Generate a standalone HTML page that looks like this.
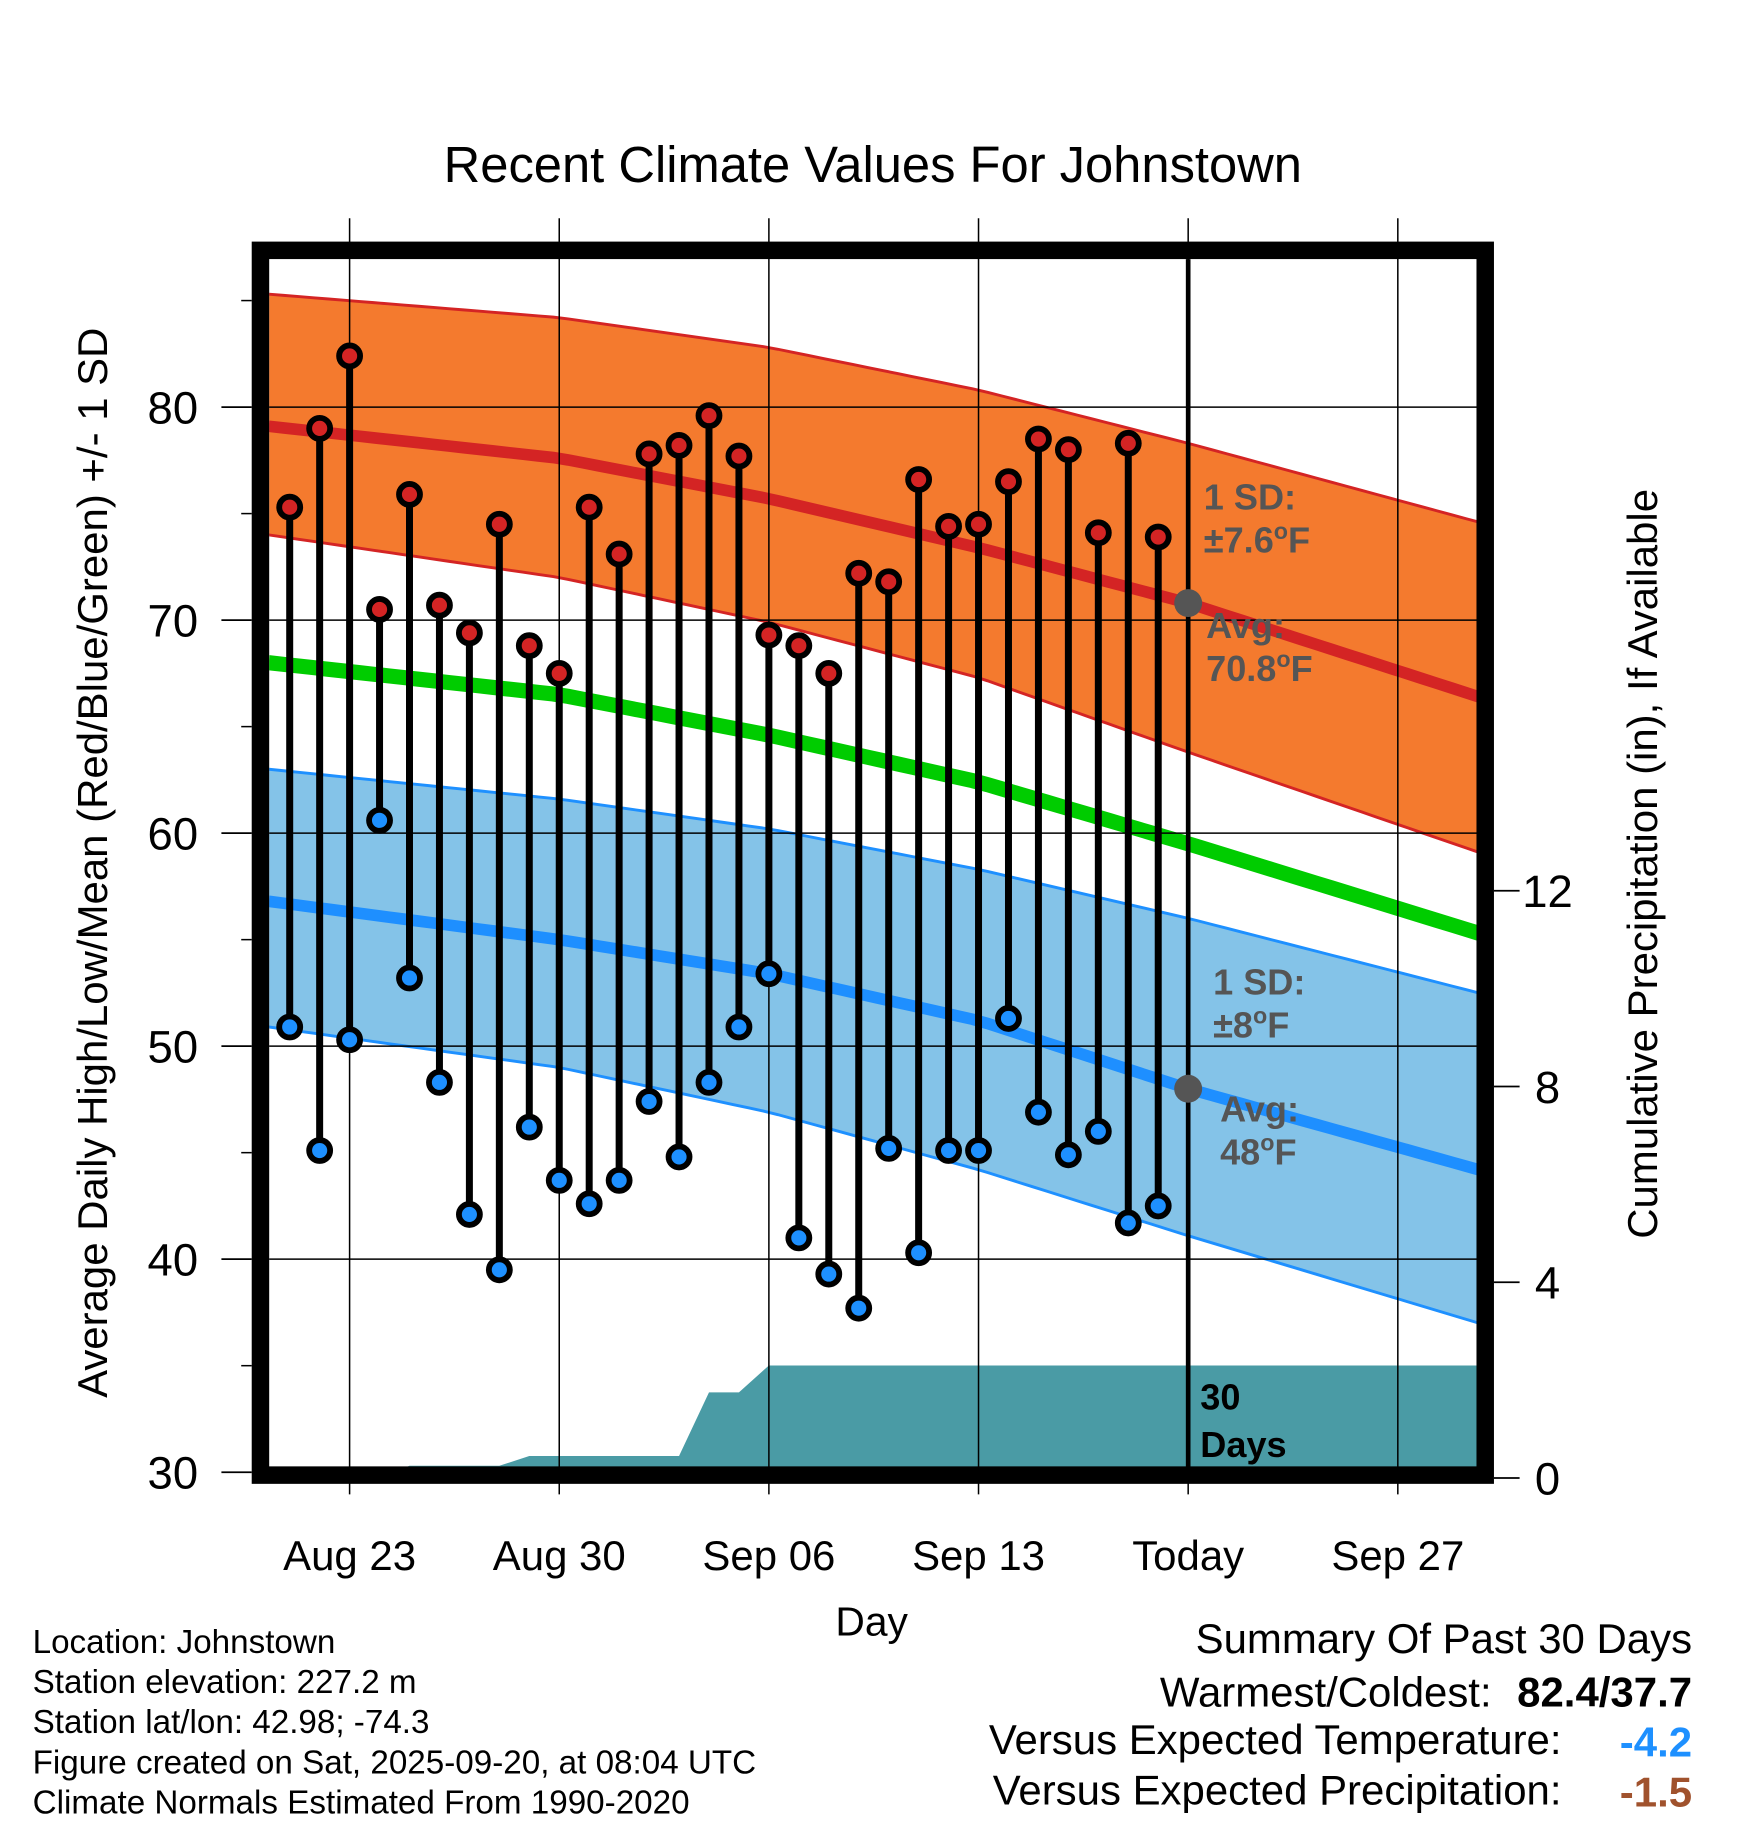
<!DOCTYPE html>
<html><head><meta charset="utf-8"><style>
html,body{margin:0;padding:0;background:#fff;}
svg{display:block;font-family:"Liberation Sans",Arial,sans-serif;}
</style></head><body>
<svg id="chart" width="1748" height="1828" viewBox="0 0 1500 1568" xmlns="http://www.w3.org/2000/svg">
<text x="749" y="156" font-size="43.5" text-anchor="middle">Recent Climate Values For Johnstown</text>
<g id="layer"></g>
</svg>
<script>
const dayLabels = ["Aug 23","Aug 30","Sep 06","Sep 13","Today","Sep 27"];
const dayTicks = [0,7,14,21,28,35];
const yTicks = [30,40,50,60,70,80];
const precipTicks = [0,4,8,12];
const obsDays = [-2,-1,0,1,2,3,4,5,6,7,8,9,10,11,12,13,14,15,16,17,18,19,20,21,22,23,24,25,26,27];
const highs = [75.3,79.0,82.4,70.5,75.9,70.7,69.4,74.5,68.8,67.5,75.3,73.1,77.8,78.2,79.6,77.7,69.3,68.8,67.5,72.2,71.8,76.6,74.4,74.5,76.5,78.5,78.0,74.1,78.3,73.9];
const lows = [50.9,45.1,50.3,60.6,53.2,48.3,42.1,39.5,46.2,43.7,42.6,43.7,47.4,44.8,48.3,50.9,53.4,41.0,39.3,37.7,45.2,40.3,45.1,45.1,51.3,46.9,44.9,46.0,41.7,42.5];
const precip = [0,0,0,0,0.25,0.25,0.25,0.25,0.45,0.45,0.45,0.45,0.45,0.45,1.75,1.75,2.3,2.3,2.3,2.3,2.3,2.3,2.3,2.3,2.3,2.3,2.3,2.3,2.3,2.3];
const normDays = [-2.7,7,14,21,28,37.7];
const redUpper = [85.3,84.2,82.8,80.8,78.3,74.6];
const redAvg = [79.1,77.6,75.7,73.4,70.8,66.4];
const redLower = [74.0,72.0,69.9,67.3,63.8,59.1];
const meanLine = [68.0,66.5,64.6,62.4,59.5,55.3];
const blueUpper = [63.0,61.6,60.2,58.3,56.0,52.5];
const blueAvg = [56.8,55.0,53.4,51.2,48.0,44.2];
const blueLower = [50.9,49.0,46.9,44.2,41.1,37.0];
const todayDay = 28;

const X = d => 300 + 25.7*d;
const Y = v => 1263 - (v-30)*18.28;
const P = p => 1268 - p*42;
const L = document.getElementById('layer');
const NS = "http://www.w3.org/2000/svg";
function mk(tag, attrs, parent){const e=document.createElementNS(NS,tag);for(const k in attrs)e.setAttribute(k,attrs[k]);(parent||L).appendChild(e);return e;}
function interp(arr, d){for(let i=0;i<normDays.length-1;i++){if(d<=normDays[i+1]||i==normDays.length-2){const t=(d-normDays[i])/(normDays[i+1]-normDays[i]);return arr[i]+t*(arr[i+1]-arr[i]);}}}
function curvePts(arr){const pts=[];const last=normDays[normDays.length-1];for(let d=normDays[0];d<last;d+=0.5){pts.push([X(d),Y(interp(arr,d))]);}pts.push([X(last),Y(interp(arr,last))]);return pts;}
function band(up,lo,fill,stroke,name){const a=curvePts(up),b=curvePts(lo).reverse();let e=mk('path',{d:'M'+a.map(p=>p.join(',')).join('L')+'L'+b.map(p=>p.join(',')).join('L')+'Z',fill:fill,'clip-path':'url(#pc)'});
 [a,b].forEach(c=>{let l=mk('polyline',{points:c.map(p=>p.join(',')).join(' '),fill:'none',stroke:stroke,'stroke-width':2.5,'clip-path':'url(#pc)'});});}
function line(arr,color,w,name){let l=mk('polyline',{points:curvePts(arr).map(p=>p.join(',')).join(' '),fill:'none',stroke:color,'stroke-width':w,'clip-path':'url(#pc)'});}

const defs=mk('defs',{});const cp=mk('clipPath',{id:'pc'},defs);mk('rect',{x:231,y:222,width:1037,height:1038},cp);
band(redUpper,redLower,'#f47a2e','#d42424','high-sd-band');
band(blueUpper,blueLower,'#84c3e8','#1e90ff','low-sd-band');
line(redAvg,'#d42424',10,'avg-high-line');
line(meanLine,'#00cc00',13,'avg-mean-line');
line(blueAvg,'#1e8fff',10,'avg-low-line');
{let pts=[[X(obsDays[0])-17,1268]];
 obsDays.forEach((d,i)=>pts.push([X(d),P(precip[i])]));
 pts.push([1268,P(precip[precip.length-1])]);pts.push([1268,1268]);
 let e=mk('path',{d:'M'+pts.map(p=>p.join(',')).join('L')+'Z',fill:'#4a9ba5','clip-path':'url(#pc)'});
 }
yTicks.forEach(v=>{if(v>30){let g=mk('line',{x1:231,x2:1268,y1:Y(v),y2:Y(v),stroke:'#000','stroke-width':1.3});}
 let t=mk('line',{x1:190,x2:216,y1:Y(v),y2:Y(v),stroke:'#000','stroke-width':1.5});
 let tx=mk('text',{x:170,y:Y(v)+14,'font-size':39,'text-anchor':'end'});tx.textContent=v;
 if(v<80){let m=mk('line',{x1:207,x2:216,y1:Y(v+5),y2:Y(v+5),stroke:'#000','stroke-width':1.3});}});
{let m=mk('line',{x1:207,x2:216,y1:Y(85),y2:Y(85),stroke:'#000','stroke-width':1.3});}
dayTicks.forEach((d,i)=>{let g=mk('line',{x1:X(d),x2:X(d),y1:187,y2:1282,stroke:'#000','stroke-width':1.3});
 let tx=mk('text',{x:X(d),y:1347,'font-size':36,'text-anchor':'middle'});tx.textContent=dayLabels[i];});
precipTicks.forEach(p=>{let t=mk('line',{x1:1282,x2:1304,y1:P(p),y2:P(p),stroke:'#000','stroke-width':1.5});
 let tx=mk('text',{x:1328,y:P(p)+14,'font-size':39,'text-anchor':'middle'});tx.textContent=p;});
{let t=mk('line',{x1:X(todayDay),x2:X(todayDay),y1:222,y2:1262,stroke:'#000','stroke-width':4});}
obsDays.forEach((d,i)=>{let s=mk('line',{x1:X(d),x2:X(d),y1:Y(highs[i]),y2:Y(lows[i]),stroke:'#000','stroke-width':6});});
obsDays.forEach((d,i)=>{let h=mk('circle',{cx:X(d),cy:Y(highs[i]),r:9,fill:'#d42424',stroke:'#000','stroke-width':5});
 let l=mk('circle',{cx:X(d),cy:Y(lows[i]),r:9,fill:'#1e90ff',stroke:'#000','stroke-width':5});});
[[redAvg,'today-high-marker'],[blueAvg,'today-low-marker']].forEach(([a,n])=>{let c=mk('circle',{cx:X(todayDay),cy:Y(interp(a,todayDay)),r:12,fill:'#555'});});
{let f=mk('rect',{x:223.5,y:214.5,width:1051,height:1051,fill:'none',stroke:'#000','stroke-width':15});}
function txt(x,y,s,size,attrs,name){let t=mk('text',Object.assign({x:x,y:y,'font-size':size},attrs||{}));t.innerHTML=s;return t;}
const ann={fill:'#555','font-weight':'bold'};
txt(1033,437,'1 SD:',31,ann,'high-sd-label');
txt(1033,474,'±7.6<tspan font-size="20" dy="-12">o</tspan><tspan dy="12">F</tspan>',31,ann,'high-sd-value');
txt(1035,547,'Avg:',31,ann,'high-avg-label');
txt(1035,584,'70.8<tspan font-size="20" dy="-12">o</tspan><tspan dy="12">F</tspan>',31,ann,'high-avg-value');
txt(1041,853,'1 SD:',31,ann,'low-sd-label');
txt(1041,890,'±8<tspan font-size="20" dy="-12">o</tspan><tspan dy="12">F</tspan>',31,ann,'low-sd-value');
txt(1047,962,'Avg:',31,ann,'low-avg-label');
txt(1047,999,'48<tspan font-size="20" dy="-12">o</tspan><tspan dy="12">F</tspan>',31,ann,'low-avg-value');
txt(1030,1209,'30',31,{'font-weight':'bold'},'days-label');
txt(1030,1250,'Days',31,{'font-weight':'bold'},'days-label-2');
txt(748,1403,'Day',35,{'text-anchor':'middle'},'x-axis-title');
txt(0,0,'Average Daily High/Low/Mean (Red/Blue/Green) +/- 1 SD',36,{'text-anchor':'middle',transform:'translate(92,740) rotate(-90)'},'y-axis-title');
txt(0,0,'Cumulative Precipitation (in), If Available',36,{'text-anchor':'middle',transform:'translate(1422,741) rotate(-90)'},'precip-axis-title');
const info=['Location: Johnstown','Station elevation: 227.2 m','Station lat/lon: 42.98; -74.3','Figure created on Sat, 2025-09-20, at 08:04 UTC','Climate Normals Estimated From 1990-2020'];
info.forEach((s,i)=>txt(28,1418+i*34.5,s,28.5,{},'station-info-line'));
txt(1452,1418,'Summary Of Past 30 Days',36,{'text-anchor':'end'},'summary-title');
txt(1280,1464,'Warmest/Coldest:',36,{'text-anchor':'end'},'warmest-coldest-label');
txt(1452,1464,'82.4/37.7',36,{'text-anchor':'end','font-weight':'bold'},'warmest-coldest-value');
txt(1340,1505,'Versus Expected Temperature:',36,{'text-anchor':'end'},'temp-anomaly-label');
txt(1452,1507,'-4.2',36,{'text-anchor':'end','font-weight':'bold',fill:'#1e90ff'},'temp-anomaly-value');
txt(1340,1548,'Versus Expected Precipitation:',36,{'text-anchor':'end'},'precip-anomaly-label');
txt(1452,1550,'-1.5',36,{'text-anchor':'end','font-weight':'bold',fill:'#a0522d'},'precip-anomaly-value');
</script>
</body></html>
